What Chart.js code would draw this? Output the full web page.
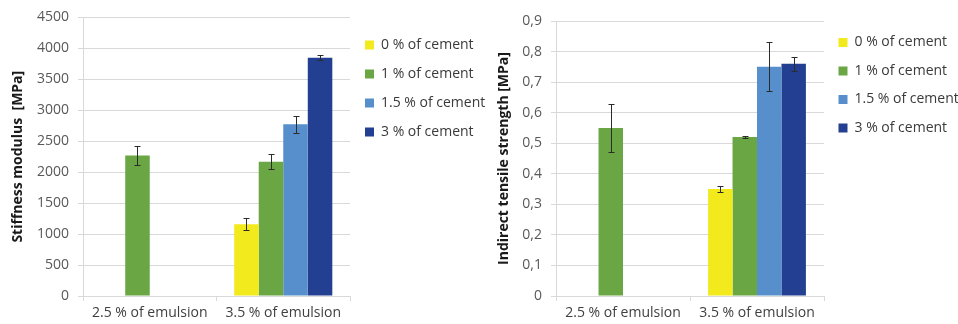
<!DOCTYPE html>
<html>
<head>
<meta charset="utf-8">
<script src="https://cdn.jsdelivr.net/npm/chart.js@4"></script>
<style>
  html, body { margin: 0; padding: 0; background: #fff; }
  #wrap { position: relative; width: 958px; height: 324px; overflow: hidden; }
  canvas { position: absolute; top: 0; }
  #stiffness { left: 0; }
  #tensile { left: 480px; }
</style>
</head>
<body>
<div id="wrap">
  <canvas id="stiffness" width="490" height="324"></canvas>
  <canvas id="tensile" width="478" height="324"></canvas>
</div>
<script>
const categories = ['2.5 % of emulsion', '3.5 % of emulsion'];
const seriesNames = ['0 % of cement', '1 % of cement', '1.5 % of cement', '3 % of cement'];
const seriesColors = ['#f2ea1c', '#6aa744', '#568fcb', '#233f91'];

// Stiffness modulus [MPa]
const stiff0 = [null, 1160];
const stiff1 = [2270, 2170];
const stiff15 = [null, 2775];
const stiff3 = [null, 3850];
// +/- error bars
const stiffErr0 = [null, 100];
const stiffErr1 = [155, 120];
const stiffErr15 = [null, 140];
const stiffErr3 = [null, 35];
const stiffTicks = ['0', '500', '1000', '1500', '2000', '2500', '3000', '3500', '4000', '4500'];

// Indirect tensile strength [MPa]
const its0 = [null, 0.35];
const its1 = [0.55, 0.52];
const its15 = [null, 0.75];
const its3 = [null, 0.76];
const itsErr0 = [null, 0.011];
const itsErr1 = [0.08, 0.004];
const itsErr15 = [null, 0.08];
const itsErr3 = [null, 0.022];
const itsTicks = ['0', '0,1', '0,2', '0,3', '0,4', '0,5', '0,6', '0,7', '0,8', '0,9'];

const FONT = "'Open Sans', 'DejaVu Sans', sans-serif";

const errorBars = {
    id: 'errorBars',
    afterDatasetsDraw(chart) {
        const ctx = chart.ctx;
        const y = chart.scales.y;
        ctx.save();
        ctx.strokeStyle = '#2b2b2b';
        ctx.lineWidth = 1;
        chart.data.datasets.forEach((ds, di) => {
            const meta = chart.getDatasetMeta(di);
            ds.data.forEach((v, i) => {
                const e = ds.errors[i];
                if (v == null || e == null) return;
                const x = Math.round(meta.data[i].x) + 0.5;
                const top = Math.round(y.getPixelForValue(v + e)) + 0.5;
                const bot = Math.round(y.getPixelForValue(v - e)) + 0.5;
                ctx.beginPath();
                ctx.moveTo(x, top); ctx.lineTo(x, bot);
                ctx.moveTo(x - 3, top); ctx.lineTo(x + 3, top);
                ctx.moveTo(x - 3, bot); ctx.lineTo(x + 3, bot);
                ctx.stroke();
            });
        });
        ctx.restore();
    }
};

function makeChart(id, series, errors, ticks, max, step, title, g) {
    new Chart(document.getElementById(id).getContext('2d'), {
        type: 'bar',
        data: {
            labels: categories,
            datasets: series.map((s, i) => ({
                label: seriesNames[i],
                data: s,
                errors: errors[i],
                backgroundColor: seriesColors[i],
                borderWidth: 0,
                categoryPercentage: g.catPct,
                barPercentage: 1
            }))
        },
        options: {
            responsive: false,
            animation: false,
            layout: { padding: { left: g.padLeft, top: g.top, right: 0, bottom: 0 } },
            plugins: {
                tooltip: { enabled: false },
                legend: {
                    position: 'right',
                    align: 'start',
                    maxWidth: g.legendWidth,
                    title: { display: g.legendGap != null, text: '', font: { size: 1 }, padding: { top: g.legendGap || 0, bottom: 0 } },
                    labels: {
                        boxWidth: 9, boxHeight: 9, padding: g.legendPad,
                        color: '#3a3a3a',
                        font: { size: 14, family: FONT }
                    }
                }
            },
            scales: {
                x: {
                    grid: { drawOnChartArea: false, color: '#d9d9d9', tickLength: 5 },
                    border: { color: '#d9d9d9' },
                    ticks: { color: '#404040', padding: 4, font: { size: 14, family: FONT } },
                    afterFit: s => { s.height = 324 - 296; }
                },
                y: {
                    min: 0, max: max,
                    grid: { color: '#d9d9d9', tickLength: 5 },
                    border: { color: '#d9d9d9' },
                    ticks: {
                        stepSize: step,
                        color: '#595959',
                        padding: 9,
                        font: { size: 14, family: FONT },
                        callback: (v, i) => ticks[i]
                    },
                    title: {
                        display: true,
                        text: title,
                        color: '#1a1a1a',
                        padding: { top: 4, bottom: 0 },
                        font: { size: 14, weight: 'bold', family: FONT }
                    },
                    afterFit: s => { s.width = g.axisX - g.padLeft; }
                }
            }
        },
        plugins: [errorBars]
    });
}

makeChart('stiffness',
    [stiff0, stiff1, stiff15, stiff3],
    [stiffErr0, stiffErr1, stiffErr15, stiffErr3],
    stiffTicks, 4500, 500, 'Stiffness modulus  [MPa]',
    { padLeft: 6, axisX: 83, top: 17, legendWidth: 140, legendPad: 15, legendGap: 4.8, catPct: 0.735 });

makeChart('tensile',
    [its0, its1, its15, its3],
    [itsErr0, itsErr1, itsErr15, itsErr3],
    itsTicks, 0.9, 0.1, 'Indirect tensile strength [MPa]',
    { padLeft: 12, axisX: 76, top: 21, legendWidth: 134, legendPad: 14.5, legendGap: null, catPct: 0.73 });
</script>
</body>
</html>
